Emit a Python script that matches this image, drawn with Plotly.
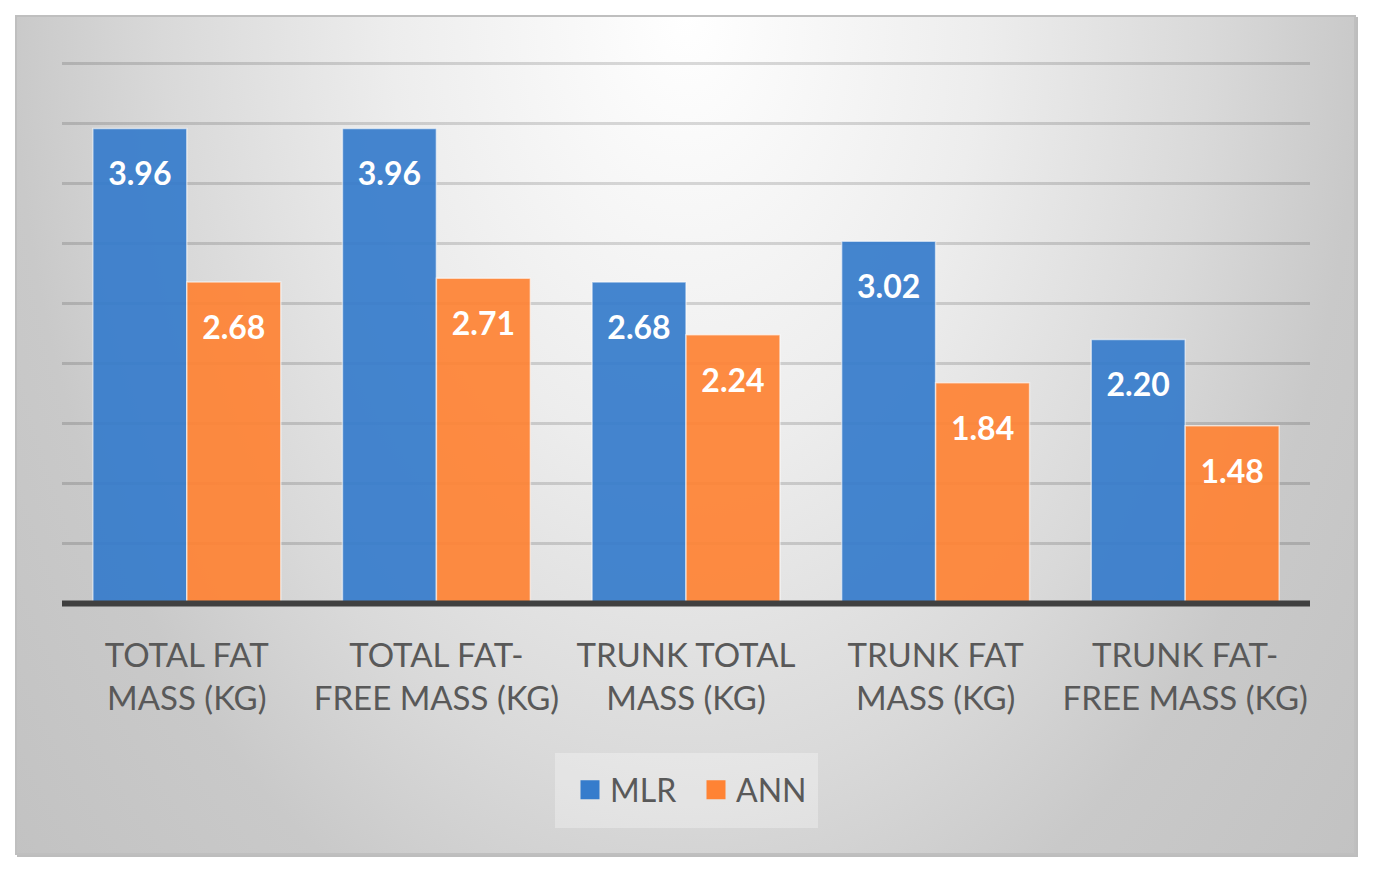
import base64
import plotly.graph_objects as go

categories = ["TOTAL FAT<br>MASS (KG)", "TOTAL FAT-<br>FREE MASS (KG)", "TRUNK TOTAL<br>MASS (KG)",
              "TRUNK FAT<br>MASS (KG)", "TRUNK FAT-<br>FREE MASS (KG)"]
mlr = [3.96, 3.96, 2.68, 3.02, 2.20]
ann = [2.68, 2.71, 2.24, 1.84, 1.48]
series_names = ["MLR", "ANN"]

BLUE = "rgb(54,124,204)"
ORANGE = "rgb(255,131,52)"
GRAY_TXT = "#595959"
FONT = "Lato"

# the page adds an 8px body margin; figure coordinates = page coordinates - 8
OFF = 8
W, H = 1360, 860
L, R, T, B = 62 - OFF, 58, 60 - OFF, 261
PW, PH = W - L - R, H - T - B
BARGAP = 0.247

# background panel (gradient + border + shadow) as an SVG
bx0, by0, bx1, by1 = 15 - OFF, 15 - OFF, 1358 - OFF, 857 - OFF
bw, bh = bx1 - bx0, by1 - by0
svg = f'''<svg xmlns="http://www.w3.org/2000/svg" width="{bw}" height="{bh}" viewBox="0 0 {bw} {bh}" preserveAspectRatio="none">
<defs>
<radialGradient id="g" gradientUnits="userSpaceOnUse" cx="0" cy="0" r="1.2" fx="0" fy="0"
 gradientTransform="translate({bw*0.5:.1f},0) scale({bw*0.55:.1f},{bh*1.3:.1f})">
<stop offset="0" stop-color="#ffffff"/>
<stop offset="0.333" stop-color="#ededed"/>
<stop offset="0.59" stop-color="#d9d9d9"/>
<stop offset="0.76" stop-color="#c9c9c9"/>
<stop offset="1" stop-color="#c2c2c2"/>
</radialGradient>
</defs>
<rect x="2" y="2" width="{bw-2}" height="{bh-2}" fill="#bdbdbd"/>
<rect x="1" y="1" width="{bw-4}" height="{bh-4}" fill="url(#g)" stroke="#bfbfbf" stroke-width="2"/>
</svg>'''
src = "data:image/svg+xml;base64," + base64.b64encode(svg.encode()).decode()

def px_to_paper_x(px):
    return (px - OFF - L) / PW

def px_to_paper_y(py):
    return (H - B - (py - OFF)) / PH

fig = go.Figure()

colors = [BLUE, ORANGE]
for name, vals, col in zip(series_names, [mlr, ann], colors):
    fig.add_trace(go.Bar(
        x=categories, y=vals, name=name, showlegend=False, offsetgroup=name,
        marker=dict(color=col, opacity=0.92, line=dict(color="rgba(255,255,255,0.6)", width=1.5)),
        hoverinfo="skip",
    ))
# value labels (grouped scatter aligned with the bars)
for name, vals in zip(series_names, [mlr, ann]):
    fig.add_trace(go.Scatter(
        x=categories, y=vals, mode="markers+text", showlegend=False, offsetgroup=name,
        text=[f"{v:.2f}" for v in vals], textposition="bottom center",
        textfont=dict(family=FONT, size=32, color="white", weight="bold"),
        marker=dict(size=51, opacity=0), hoverinfo="skip", cliponaxis=False,
    ))
# legend entries
for name, col in zip(series_names, colors):
    fig.add_trace(go.Scatter(
        x=[None], y=[None], mode="markers", name=name, offsetgroup=name,
        marker=dict(symbol="square", size=16, color=col, line=dict(color=col, width=3)),
    ))

fig.update_layout(
    width=W, height=H,
    margin=dict(l=L, r=R, t=T, b=B),
    paper_bgcolor="white", plot_bgcolor="rgba(0,0,0,0)",
    barmode="group", bargap=BARGAP, bargroupgap=0,
    scattermode="group", scattergap=BARGAP,
    font=dict(family=FONT, color=GRAY_TXT),
    legend=dict(orientation="h", x=px_to_paper_x(696), xanchor="center", y=px_to_paper_y(790), yanchor="middle",
                font=dict(family=FONT, size=32, color=GRAY_TXT), bgcolor="rgba(0,0,0,0)",
                entrywidth=81, entrywidthmode="pixels", itemclick=False),
    images=[dict(source=src, xref="paper", yref="paper",
                 x=px_to_paper_x(15), y=px_to_paper_y(15),
                 sizex=bw / PW, sizey=bh / PH, sizing="stretch",
                 xanchor="left", yanchor="top", layer="below")],
    shapes=[
        dict(type="rect", xref="paper", yref="paper", layer="below",
             x0=px_to_paper_x(555), x1=px_to_paper_x(818), y0=px_to_paper_y(828), y1=px_to_paper_y(753),
             fillcolor="rgba(255,255,255,0.3)", line=dict(width=0)),
        dict(type="line", xref="paper", yref="y", layer="above",
             x0=0, x1=1, y0=0, y1=0, line=dict(color="#404040", width=6)),
    ],
)
fig.update_xaxes(showgrid=False, zeroline=False, showline=False, ticks="",
                 tickfont=dict(family=FONT, size=33, color=GRAY_TXT), ticklabelstandoff=26)
fig.update_yaxes(range=[-0.03, 4.53], tick0=0, dtick=0.5, showgrid=True,
                 gridcolor="rgba(0,0,0,0.14)", gridwidth=3, zeroline=False,
                 showticklabels=False, ticks="")

fig.write_html("out.html")
